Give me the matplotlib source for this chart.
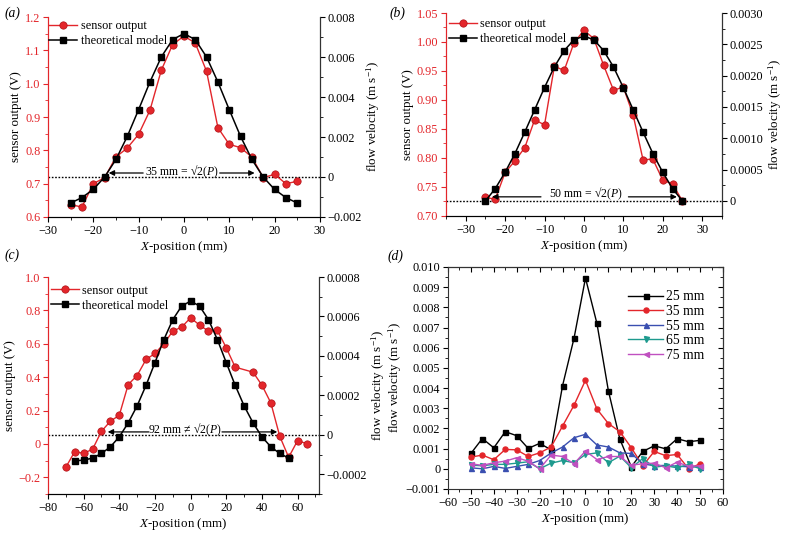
import matplotlib
matplotlib.use("Agg")
import matplotlib.pyplot as plt
from matplotlib.ticker import MultipleLocator, FuncFormatter

plt.rcParams['font.family'] = ['Liberation Serif', 'DejaVu Serif']
plt.rcParams['mathtext.fontset'] = 'custom'
plt.rcParams['mathtext.rm'] = 'Liberation Serif'
plt.rcParams['mathtext.it'] = 'Liberation Serif:italic'
plt.rcParams['axes.unicode_minus'] = True

RED = '#e3262b'

# ---------------- data ----------------
# panel (a)
a_x = [-25, -22.5, -20, -17.5, -15, -12.5, -10, -7.5, -5, -2.5, 0, 2.5, 5, 7.5, 10, 12.5, 15, 17.5, 20, 22.5, 25]
a_sensor = [0.637, 0.630, 0.700, 0.718, 0.780, 0.807, 0.848, 0.920, 1.040, 1.117, 1.143,
            1.122, 1.037, 0.868, 0.818, 0.808, 0.780, 0.718, 0.728, 0.700, 0.707]
a_model = [-0.00130, -0.00103, -0.00062, 0.0, 0.00088, 0.00203, 0.00337, 0.00475, 0.00600, 0.00687, 0.00717,
           0.00687, 0.00600, 0.00475, 0.00337, 0.00203, 0.00088, 0.0, -0.00062, -0.00103, -0.00130]

# panel (b)
b_x = a_x
b_sensor = [0.732, 0.729, 0.775, 0.795, 0.818, 0.866, 0.857, 0.958, 0.951, 0.999, 1.020,
            1.006, 0.960, 0.917, 0.922, 0.874, 0.797, 0.798, 0.762, 0.755, 0.726]
b_model = [0.0, 0.000197, 0.000458, 0.000757, 0.00110, 0.001455, 0.00181, 0.00214, 0.00240, 0.002575, 0.00263,
           0.002575, 0.00240, 0.00214, 0.00181, 0.001455, 0.00110, 0.000757, 0.000458, 0.000197, 0.0]

# panel (c)
c_x_sensor = [-70, -65, -60, -55, -50, -45, -40, -35, -30, -25, -20, -15, -10, -5, 0,
              5, 10, 15, 20, 25, 35, 40, 45, 50, 55, 60, 65]
c_sensor = [-0.140, -0.046, -0.056, -0.032, 0.076, 0.136, 0.172, 0.356, 0.410, 0.506, 0.542, 0.600, 0.676, 0.700, 0.756,
            0.712, 0.676, 0.680, 0.576, 0.460, 0.430, 0.352, 0.246, 0.046, -0.080, 0.020, 0.002]
c_x_model = [-65, -60, -55, -50, -45, -40, -35, -30, -25, -20, -15, -10, -5, 0,
             5, 10, 15, 20, 25, 30, 35, 40, 45, 50, 55]
c_model = [-0.000132, -0.000128, -0.000118, -0.0000945, -0.0000608, -0.00001, 0.0000608, 0.000147, 0.000251,
           0.000366, 0.000483, 0.000584, 0.000653, 0.000678, 0.000653, 0.000584, 0.000483, 0.000366,
           0.000251, 0.000147, 0.0000608, -0.00001, -0.0000608, -0.0000945, -0.000118]

# panel (d)
d_x = [-50, -45, -40, -35, -30, -25, -20, -15, -10, -5, 0, 5, 10, 15, 20, 25, 30, 35, 40, 45, 50]
d_25 = [0.00076, 0.00150, 0.00104, 0.00184, 0.00164, 0.00101, 0.00126, 0.00094, 0.00412, 0.00647, 0.00945,
        0.00720, 0.00386, 0.00147, 0.00010, 0.00086, 0.00114, 0.00099, 0.00149, 0.00134, 0.00141]
d_35 = [0.00058, 0.00068, 0.00045, 0.00096, 0.00094, 0.00061, 0.00079, 0.00108, 0.00212, 0.00315, 0.00439,
        0.00296, 0.00224, 0.00184, 0.00104, 0.00015, 0.00086, 0.00065, 0.00071, 0.00000, 0.00025]
d_55 = [0.00005, 0.00000, 0.00012, 0.00002, 0.00012, 0.00022, 0.00041, 0.00078, 0.00108, 0.00154, 0.00171,
        0.00118, 0.00108, 0.00079, 0.00076, 0.00025, 0.00015, 0.00017, 0.00013, 0.00010, 0.00010]
d_65 = [0.00018, 0.00015, 0.00022, 0.00022, 0.00028, 0.00035, 0.00000, 0.00028, 0.00041, 0.00030, 0.00071,
        0.00079, 0.00030, 0.00063, 0.00005, 0.00051, 0.00008, 0.00015, 0.00005, 0.00022, 0.00000]
d_75 = [0.00025, 0.00017, 0.00030, 0.00038, 0.00055, 0.00038, 0.00000, 0.00068, 0.00061, 0.00025, 0.00088,
        0.00046, 0.00061, 0.00061, 0.00018, 0.00025, 0.00028, 0.00005, 0.00033, 0.00012, 0.00015]
d_labels = ['25 mm', '35 mm', '55 mm', '65 mm', '75 mm']

FS = 8.8
LFS = 9.4
XLABEL = '$X$-position (mm)'
RLABEL = 'flow velocity (m s$^{-1}$)'


def fmt(decimals):
    def f(v, pos):
        if abs(v) < 1e-12:
            return '0'
        s = f'{v:.{decimals}f}'
        return s.replace('-', '\u2212')
    return FuncFormatter(f)


fig = plt.figure(figsize=(7.88, 5.35), dpi=100)


def sensor_panel(rect, xs, ys, xm, ym, xlim, ylim, y2lim, xmaj, ymaj, y2maj, ydec, y2dec,
                 zero_left, text, tx, ty, arrows, leg_anchor):
    ax = fig.add_axes(rect)
    ax2 = ax.twinx()
    l1, = ax.plot(xs, ys, '-o', color=RED, lw=1.0, ms=5.3, mfc=RED, mec='#b01015', mew=0.5,
                  label='sensor output', zorder=3)
    l2, = ax2.plot(xm, ym, '-s', color='black', lw=1.1, ms=4.6, mfc='black', mec='black',
                   label='theoretical model', zorder=3)
    ax.set_xlim(*xlim)
    ax.set_ylim(*ylim)
    ax2.set_ylim(*y2lim)
    ax.axhline(zero_left, color='black', ls=(0, (1.2, 1.2)), lw=1.0, zorder=2)
    ax.spines['top'].set_visible(False)
    ax2.spines['top'].set_visible(False)
    ax.spines['left'].set_color(RED)
    ax2.spines['left'].set_color(RED)
    ax2.spines['right'].set_color('#333333')
    ax.spines['bottom'].set_color('#333333')
    ax.xaxis.set_major_locator(MultipleLocator(xmaj))
    ax.xaxis.set_minor_locator(MultipleLocator(xmaj / 2))
    ax.yaxis.set_major_locator(MultipleLocator(ymaj))
    ax.yaxis.set_minor_locator(MultipleLocator(ymaj / 2))
    ax2.yaxis.set_major_locator(MultipleLocator(y2maj))
    ax2.yaxis.set_minor_locator(MultipleLocator(y2maj / 2))
    ax.xaxis.set_major_formatter(fmt(0))
    ax.yaxis.set_major_formatter(fmt(ydec))
    ax2.yaxis.set_major_formatter(fmt(y2dec))
    ax.tick_params(axis='y', which='both', colors=RED, labelsize=FS, direction='out', pad=2)
    ax.tick_params(axis='y', which='major', length=3.5)
    ax.tick_params(axis='y', which='minor', length=2)
    ax.tick_params(axis='x', which='major', length=3.5, labelsize=FS, direction='out', pad=2)
    ax.tick_params(axis='x', which='minor', length=2, direction='out')
    ax2.tick_params(axis='y', which='major', length=3.5, labelsize=FS, direction='out', pad=2)
    ax2.tick_params(axis='y', which='minor', length=2, direction='out')
    ax.set_xlabel(XLABEL, fontsize=LFS, labelpad=2)
    ax.set_ylabel('sensor output (V)', fontsize=LFS, labelpad=2)
    ax2.set_ylabel(RLABEL, fontsize=LFS, labelpad=2)
    ty2 = ax2.transData.inverted().transform(ax.transData.transform((tx, ty)))[1]
    ax2.text(tx, ty2, text, ha='center', va='center', fontsize=FS - 0.3, zorder=5)
    for (x0, x1, yy) in arrows:
        ax.annotate('', xy=(x1, yy), xytext=(x0, yy),
                    arrowprops=dict(arrowstyle='-|>', color='black', lw=0.9, mutation_scale=8,
                                    shrinkA=0, shrinkB=0))
    ax2.legend(handles=[l1, l2], loc='upper left', bbox_to_anchor=leg_anchor, frameon=False,
               fontsize=FS, handlelength=2.3, handletextpad=0.25, borderaxespad=0.0,
               borderpad=0.0, labelspacing=0.25)
    return ax, ax2


# (a)
sensor_panel([0.0609, 0.5944, 0.345, 0.3738], a_x, a_sensor, a_x, a_model,
             (-30, 30), (0.6, 1.2), (-0.002, 0.008), 10, 0.1, 0.002, 1, 3,
             0.72, '35 mm = \u221a2($P$)', -0.5, 0.735,
             [(-9.0, -16.6, 0.732), (7.9, 15.6, 0.732)], (0.005, 0.985))

# (b)
sensor_panel([0.566, 0.5963, 0.350, 0.3794], b_x, b_sensor, b_x, b_model,
             (-35, 35), (0.70, 1.05), (-0.00024, 0.0030), 10, 0.05, 0.0005, 2, 4,
             0.726, '50 mm = \u221a2($P$)', 0.5, 0.7385,
             [(-10.9, -23.3, 0.733), (11.3, 23.6, 0.733)], (0.01, 0.975))

# (c)
sensor_panel([0.0609, 0.0766, 0.3439, 0.4056], c_x_sensor, c_sensor, c_x_model, c_model,
             (-80, 72), (-0.3, 1.0), (-0.0003, 0.0008), 20, 0.2, 0.0002, 1, 4,
             0.052, '92 mm \u2260 \u221a2($P$)', -3.0, 0.082,
             [(-23.5, -46.5, 0.072), (17.6, 48.6, 0.072)], (0.012, 0.965))

# (d)
axd = fig.add_axes([0.5685, 0.0860, 0.349, 0.4150])
series = [d_25, d_35, d_55, d_65, d_75]
colors = ['black', RED, '#3a4fb0', '#1e9a8e', '#c050c0']
markers = ['s', 'o', '^', 'v', '<']
for ys, c, m, lab in zip(series, colors, markers, d_labels):
    axd.plot(d_x, ys, '-', marker=m, color=c, lw=1.0, ms=3.6, mfc=c, mec=c, label=lab)
axd.set_xlim(-60, 60)
axd.set_ylim(-0.001, 0.010)
axd.xaxis.set_major_locator(MultipleLocator(10))
axd.xaxis.set_minor_locator(MultipleLocator(5))
axd.yaxis.set_major_locator(MultipleLocator(0.001))
axd.yaxis.set_minor_locator(MultipleLocator(0.0005))
axd.xaxis.set_major_formatter(fmt(0))
axd.yaxis.set_major_formatter(fmt(3))
axd.tick_params(which='major', length=3.5, labelsize=FS, direction='out', pad=2)
axd.tick_params(which='minor', length=2, direction='out')
for sp in axd.spines.values():
    sp.set_color('#333333')
top = axd.secondary_xaxis('top')
top.xaxis.set_major_locator(MultipleLocator(10))
top.xaxis.set_minor_locator(MultipleLocator(5))
top.tick_params(which='major', direction='in', length=3.5, labeltop=False)
top.tick_params(which='minor', direction='in', length=2)
right = axd.secondary_yaxis('right')
right.yaxis.set_major_locator(MultipleLocator(0.001))
right.yaxis.set_minor_locator(MultipleLocator(0.0005))
right.tick_params(which='major', direction='in', length=3.5, labelright=False)
right.tick_params(which='minor', direction='in', length=2)
axd.set_xlabel(XLABEL, fontsize=LFS, labelpad=2)
axd.set_ylabel(RLABEL, fontsize=LFS, labelpad=1)
axd.legend(loc='upper left', bbox_to_anchor=(0.655, 0.895), frameon=False, fontsize=FS + 1.0,
           handlelength=2.6, handletextpad=0.2, labelspacing=0.12, borderaxespad=0.0, borderpad=0.0)

# panel letters
for lab, x, y in [('(a)', 0.006, 0.988), ('(b)', 0.494, 0.988), ('(c)', 0.006, 0.536), ('(d)', 0.492, 0.533)]:
    fig.text(x, y, lab, fontsize=FS + 1, style='italic', ha='left', va='top')

fig.savefig('out.png', dpi=100)
